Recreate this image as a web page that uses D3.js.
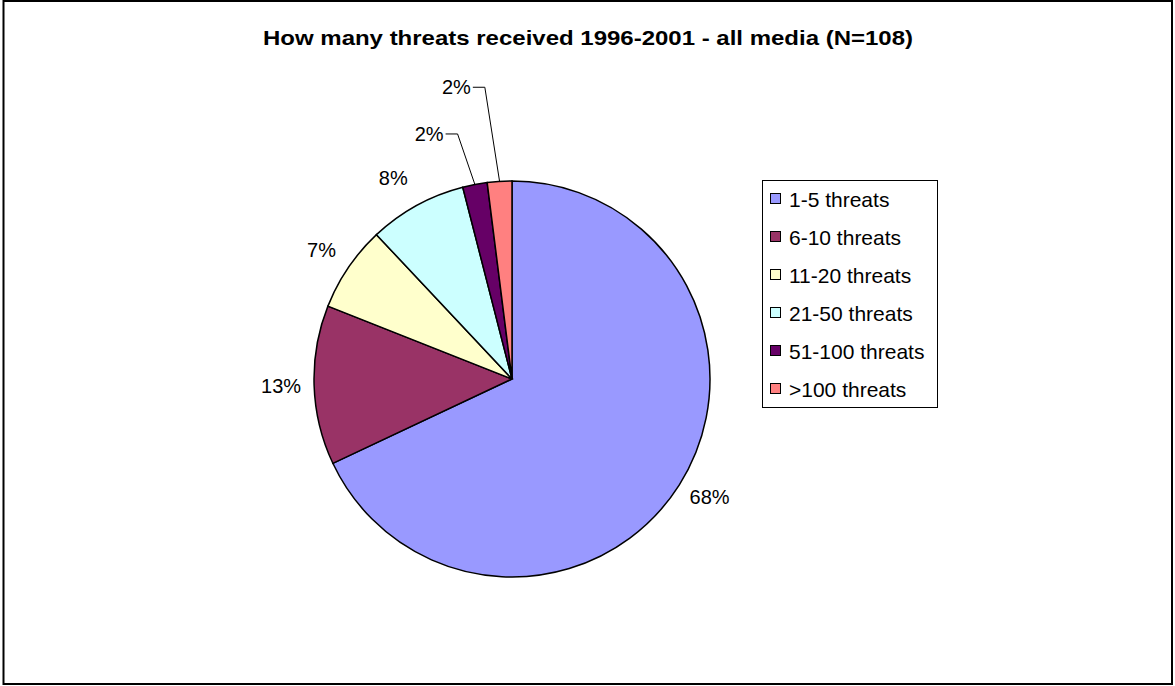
<!DOCTYPE html>
<html><head><meta charset="utf-8">
<script src="https://cdn.jsdelivr.net/npm/d3@7"></script>
<style>html,body{margin:0;padding:0;background:#fff;}svg{display:block;font-family:"Liberation Sans",Arial,sans-serif;}</style>
</head><body>
<svg id="c" width="1175" height="686"></svg>
<script>
const categories = ["1-5 threats","6-10 threats","11-20 threats","21-50 threats","51-100 threats",">100 threats"];
const values = [68, 13, 7, 8, 2, 2];
const labels = ["68%","13%","7%","8%","2%","2%"];
const colors = ["#9999FF","#993366","#FFFFCC","#CCFFFF","#660066","#FF8080"];
const title = "How many threats received 1996-2001 - all media (N=108)";

const svg = d3.select("#c");
svg.append("rect").attr("x",3.5).attr("y",1).attr("width",1168.5).attr("height",683)
  .attr("fill","#fff").attr("stroke","#000").attr("stroke-width",2);

svg.append("text").attr("x",263).attr("y",45)
  .attr("font-size",21).attr("font-weight","bold")
  .attr("textLength",650).attr("lengthAdjust","spacingAndGlyphs").text(title);

const cx = 512, cy = 379, r = 198;
const pie = d3.pie().sort(null).value(d=>d).startAngle(0).endAngle(2*Math.PI);
const arcs = pie(values);
const arc = d3.arc().innerRadius(0).outerRadius(r);
const color = d3.scaleOrdinal().domain(categories).range(colors);

const g = svg.append("g").attr("transform",`translate(${cx},${cy})`);
g.selectAll("path").data(arcs).enter().append("path")
  .attr("d",arc).attr("fill",(d,i)=>color(categories[i]))
  .attr("stroke","#000").attr("stroke-width",1.5);

// labels
const pt = (a, rad) => [Math.sin(a)*rad, -Math.cos(a)*rad];
const nudge = [[0,-7],[3,0],[3,3],[-6,4]];
arcs.forEach((d,i)=>{
  const mid = (d.startAngle+d.endAngle)/2;
  if (i < 4) {
    const [x,y] = pt(mid, r+36);
    g.append("text").attr("x",x+nudge[i][0]).attr("y",y+nudge[i][1]).attr("text-anchor","middle")
      .attr("dominant-baseline","central").attr("font-size",20).text(labels[i]);
  } else {
    const elbowR = i===4 ? 251 : 293;
    const [ax,ay] = pt(mid, r);
    const [ex,ey] = pt(mid - 0.03, elbowR);
    const hx = ex - 12;
    g.append("polyline").attr("points",`${ax},${ay} ${ex},${ey} ${hx},${ey}`)
      .attr("fill","none").attr("stroke","#000").attr("stroke-width",1);
    g.append("text").attr("x",hx-2).attr("y",ey).attr("text-anchor","end")
      .attr("dominant-baseline","central").attr("font-size",20).text(labels[i]);
  }
});

// legend
const lg = svg.append("g");
lg.append("rect").attr("x",762.5).attr("y",180.5).attr("width",175).attr("height",227)
  .attr("fill","#fff").attr("stroke","#000").attr("stroke-width",1);
const ly = d3.scalePoint().domain(categories).range([199,389]);
categories.forEach((c,i)=>{
  lg.append("rect").attr("x",770.5).attr("y",ly(c)-5.5).attr("width",10).attr("height",10)
    .attr("fill",color(c)).attr("stroke","#000").attr("stroke-width",1);
  lg.append("text").attr("x",789).attr("y",ly(c)).attr("dominant-baseline","central")
    .attr("font-size",21).text(c);
});
</script>
</body></html>
